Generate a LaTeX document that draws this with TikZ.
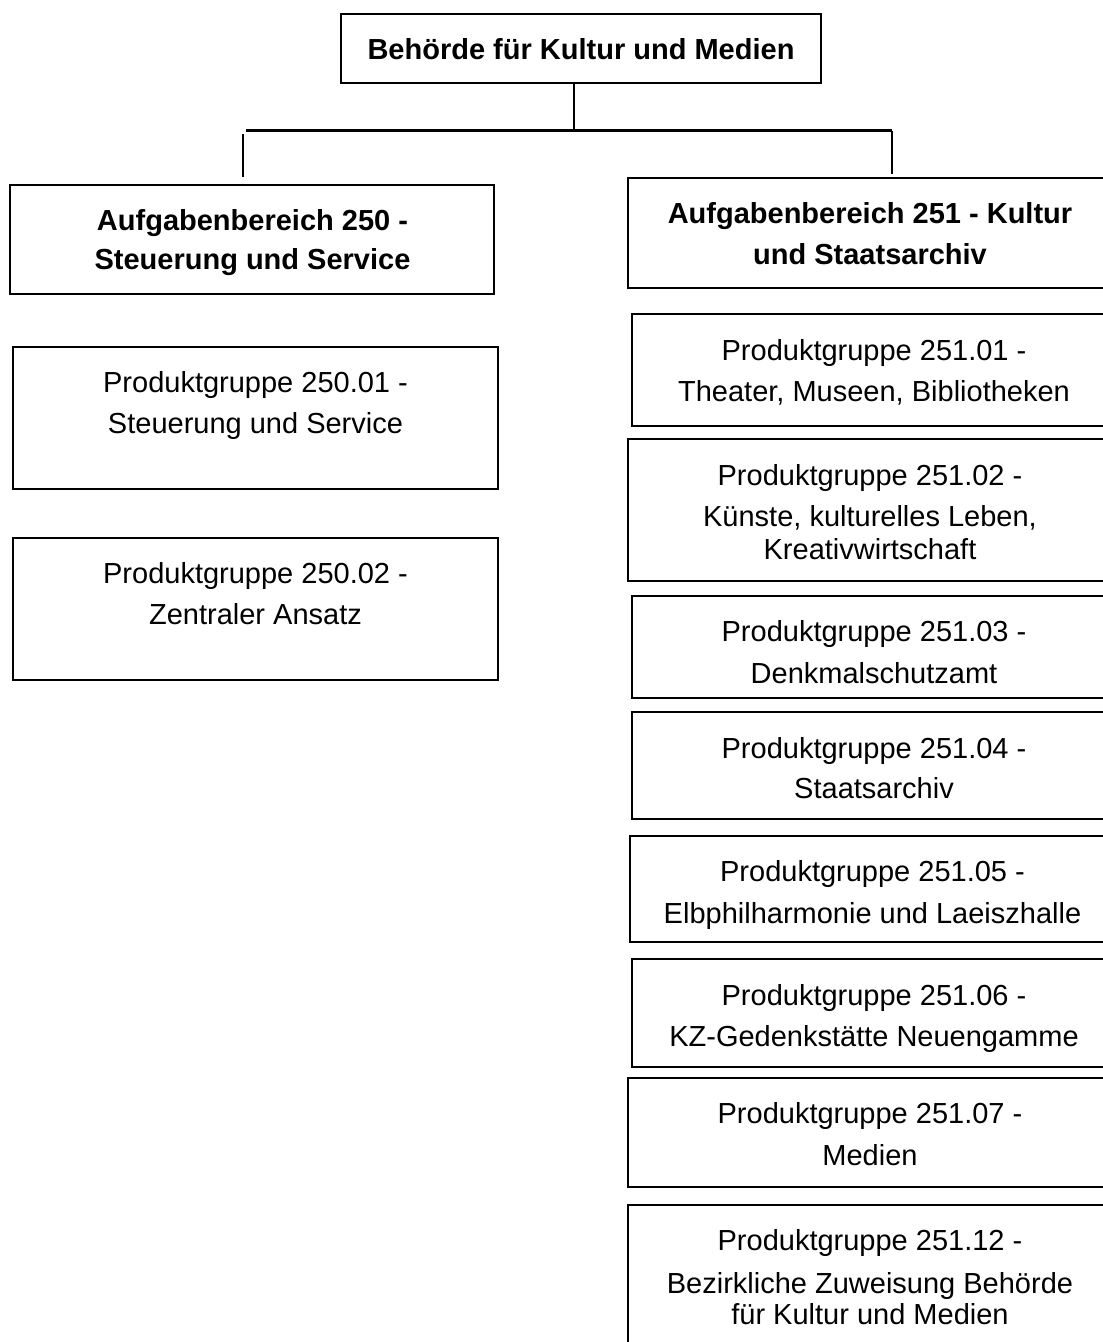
\documentclass[tikz,border=0pt]{standalone}
\usepackage{fontspec}
\setmainfont{Liberation Sans}
\newcommand{\fstrut}{\rule{0pt}{29pt}}
\begin{document}
\begin{tikzpicture}[x=1pt,y=-1pt,
  box/.style={draw=black, line width=2pt, rectangle, inner sep=0pt},
  txt/.style={anchor=north, align=center, inner sep=0pt, font=\fontsize{29}{33}\selectfont},
  conn/.style={draw=black, line width=2.2pt}]
\useasboundingbox (0,0) rectangle (1103,1342);
\clip (0,0) rectangle (1103,1342);
\fill[white] (0,0) rectangle (1103,1342);
% boxes
\node[box, minimum width=480pt, minimum height=69pt] (top) at (581,48.5) {};
\node[box, minimum width=484pt, minimum height=109pt] (a250) at (252,239.5) {};
\node[box, minimum width=485pt, minimum height=110pt] (a251) at (870.5,233) {};
\node[box, minimum width=485pt, minimum height=142pt] (p1) at (255.5,418) {};
\node[box, minimum width=485pt, minimum height=142pt] (p2) at (255.5,609) {};
\node[box, minimum width=485pt, minimum height=112pt] (r1) at (874.5,370) {};
\node[box, minimum width=485pt, minimum height=142pt] (r2) at (870.5,510) {};
\node[box, minimum width=485pt, minimum height=102pt] (r3) at (874.5,647) {};
\node[box, minimum width=485pt, minimum height=107pt] (r4) at (874.5,765.5) {};
\node[box, minimum width=485pt, minimum height=106pt] (r5) at (872.5,889) {};
\node[box, minimum width=485pt, minimum height=108pt] (r6) at (874.5,1013) {};
\node[box, minimum width=485pt, minimum height=109pt] (r7) at (870.5,1132.5) {};
\node[box, minimum width=485pt, minimum height=195pt] (r12) at (870.5,1302.5) {};
% texts
\node[txt] (ttop) at (581,30.3) {\fstrut\bfseries Behörde für Kultur und Medien};
\node[txt] (ta250) at (252.5,201) {\fstrut\bfseries Aufgabenbereich 250 -\\[6pt]\bfseries Steuerung und Service};
\node[txt] (ta251) at (870,194.3) {\fstrut\bfseries Aufgabenbereich 251 - Kultur\\[7.5pt]\bfseries und Staatsarchiv};
\node[txt] (tp1) at (255.5,363) {\fstrut Produktgruppe 250.01 -\\[8pt]Steuerung und Service};
\node[txt] (tp2) at (255.5,554.3) {\fstrut Produktgruppe 250.02 -\\[7.5pt]Zentraler Ansatz};
\node[txt] (tr1) at (874,331) {\fstrut Produktgruppe 251.01 -\\[8.5pt]Theater, Museen, Bibliotheken};
\node[txt] (tr2) at (870,456) {\fstrut Produktgruppe 251.02 -\\[8.5pt]Künste, kulturelles Leben,\\Kreativwirtschaft};
\node[txt] (tr3) at (874,612.7) {\fstrut Produktgruppe 251.03 -\\[8.5pt]Denkmalschutzamt};
\node[txt] (tr4) at (874,729.3) {\fstrut Produktgruppe 251.04 -\\[7pt]Staatsarchiv};
\node[txt] (tr5) at (872.5,852.7) {\fstrut Produktgruppe 251.05 -\\[8.5pt]Elbphilharmonie und Laeiszhalle};
\node[txt] (tr6) at (874,976) {\fstrut Produktgruppe 251.06 -\\[8.5pt]KZ-Gedenkstätte Neuengamme};
\node[txt] (tr7) at (870,1094.3) {\fstrut Produktgruppe 251.07 -\\[8.5pt]Medien};
\node[txt] (tr12) at (870,1221) {\fstrut Produktgruppe 251.12 -\\[10pt]Bezirkliche Zuweisung Behörde\\[-1.5pt]für Kultur und Medien};
% connectors
\coordinate (hub) at (574,130.5);
\coordinate (hl) at (246,130.5);
\coordinate (hr) at (892,130.5);
\coordinate (dl) at (243.3,134);
\coordinate (dr) at (892,131);
\draw[conn] (top.south -| hub) -- (hub);
\draw[conn] (hl) -- (hr);
\draw[conn] (dl) -- ([yshift=7pt]a250.north -| dl);
\draw[conn] (dr) -- ([yshift=3pt]a251.north -| dr);
\end{tikzpicture}
\end{document}
